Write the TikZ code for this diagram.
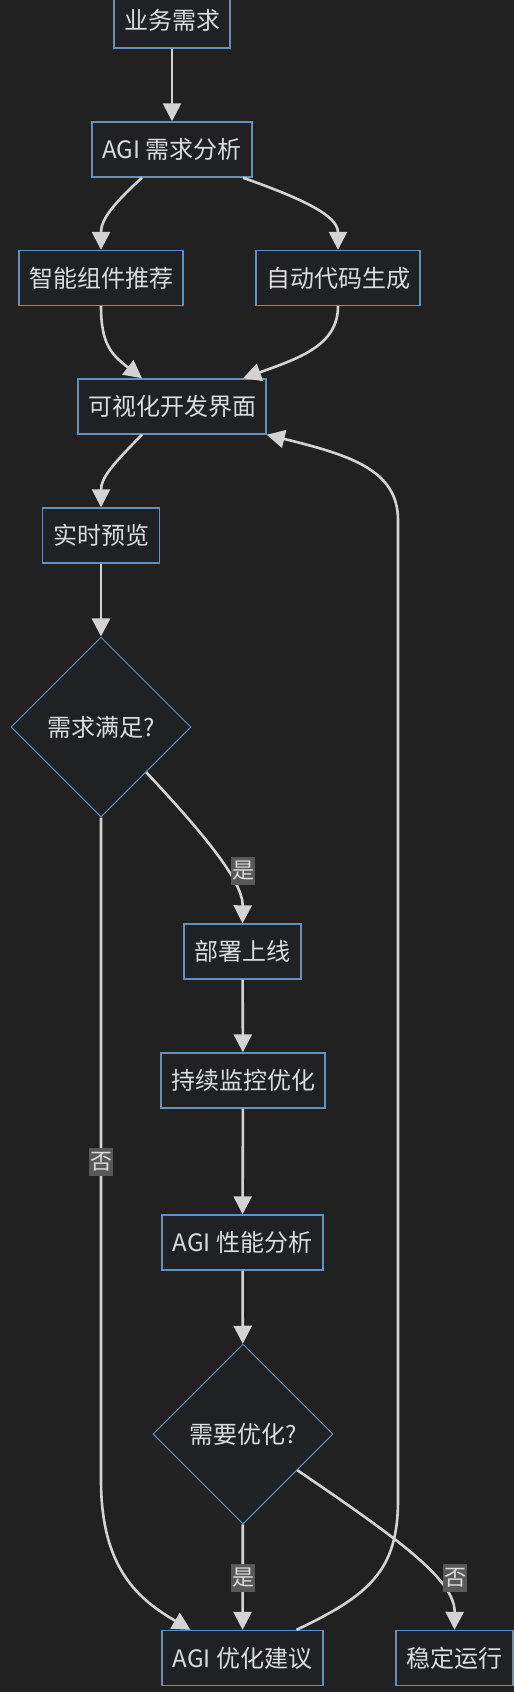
\documentclass[tikz,border=0pt]{standalone}
\usepackage{fontspec}
\setmainfont{Noto Sans CJK SC}
\usetikzlibrary{shapes.geometric,arrows.meta,calc}
\definecolor{bgc}{HTML}{212121}
\definecolor{nodefill}{HTML}{1F2123}
\definecolor{nodeline}{HTML}{6390BF}
\definecolor{txt}{HTML}{DCDCDC}
\definecolor{edgec}{HTML}{D3D3D3}
\definecolor{lblfill}{HTML}{595959}
\tikzset{
  box/.style={draw=nodeline, line width=1.4pt, fill=nodefill, text=txt,
    font=\fontsize{24}{28}\selectfont, minimum height=55pt, inner xsep=10pt, inner ysep=0pt},
  dec/.style={diamond, aspect=1, draw=nodeline, line width=1pt, fill=nodefill, text=txt,
    font=\fontsize{24}{28}\selectfont, minimum width=180pt, minimum height=180pt, inner sep=0pt},
  flow/.style={draw=edgec, line width=2.6pt, -{Triangle[length=18pt,width=18pt]}},
  lbl/.style={fill=lblfill, text=txt, font=\fontsize{22}{26}\selectfont,
    inner xsep=1pt, inner ysep=0pt, minimum height=28pt}
}
\begin{document}
\begin{tikzpicture}[x=1pt,y=-1pt]
\useasboundingbox (0,0) rectangle (514,1692);
\fill[bgc] (0,0) rectangle (514,1692);

\node[box, minimum width=116pt] (A) at (172,20.5) {业务需求};
\node[box, minimum width=160pt] (B) at (172,149.5) {AGI 需求分析};
\node[box, minimum width=164pt] (C) at (101,278) {智能组件推荐};
\node[box, minimum width=164pt] (D) at (338,278) {自动代码生成};
\node[box, minimum width=188pt] (E) at (172,406.5) {可视化开发界面};
\node[box, minimum width=117pt] (F) at (101,535.5) {实时预览};
\node[dec] (G) at (101,727) {需求满足?};
\node[box, minimum width=117pt] (H) at (242.5,951.5) {部署上线};
\node[box, minimum width=164pt] (I) at (243,1080.5) {持续监控优化};
\node[box, minimum width=161pt] (J) at (242.5,1242.5) {AGI 性能分析};
\node[dec] (K) at (243,1434) {需要优化?};
\node[box, minimum width=161pt] (L) at (242.5,1658) {AGI 优化建议};
\node[box, minimum width=117pt] (M) at (454.5,1658) {稳定运行};

\draw[flow] (A) -- (B);
\draw[flow] ([xshift=-30pt]B.south) .. controls (112,205) and (101,220) .. (C.north);
\draw[flow] ([xshift=71pt]B.south) .. controls (300,198) and (338,215) .. (D.north);
\draw[flow] (C.south) .. controls (101,345) and (112,355) .. ([xshift=-30pt]E.north);
\draw[flow] (D.south) .. controls (338,345) and (300,358) .. ([xshift=71pt]E.north);
\draw[flow] ([xshift=-30pt]E.south) .. controls (112,465) and (101,478) .. (F.north);
\draw[flow] (F) -- (G);
\draw[flow] (G.south east) .. controls (200,830) and (243,880) .. (H.north);
\draw[flow] (G.south) -- (101,1480) .. controls (101,1570) and (140,1600) .. ([xshift=-52pt]L.north);
\draw[flow] (H) -- (I);
\draw[flow] (I) -- (J);
\draw[flow] (J) -- (K);
\draw[flow] (K) -- (L);
\draw[flow] ($(K.east)!0.4!(K.south)$) .. controls (400,1540) and (455,1580) .. (M.north);
\draw[flow] ([xshift=54pt]L.north) .. controls (370,1595) and (398,1570) .. (398,1500)
  -- (398,520) .. controls (398,470) and (350,455) .. (E.south east);

\node[lbl] (l1) at (243,871) {是};
\node[lbl] (l2) at (101,1162) {否};
\node[lbl] (l3) at (243,1578) {是};
\node[lbl] (l4) at (455,1578) {否};
\end{tikzpicture}
\end{document}
